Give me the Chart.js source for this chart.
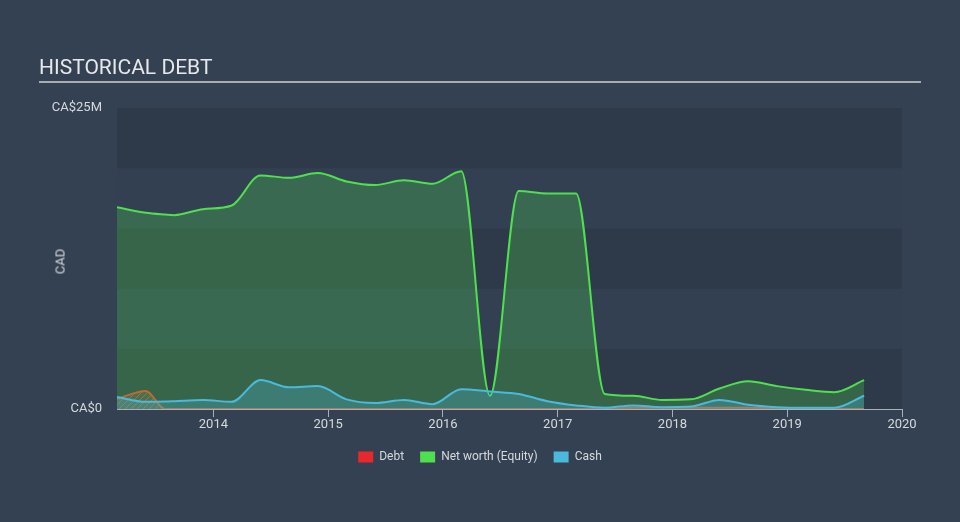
<!DOCTYPE html>
<html>
<head>
<meta charset="utf-8">
<script src="https://cdn.jsdelivr.net/npm/chart.js@4.4.0/dist/chart.umd.min.js"></script>
<style>
  html, body { margin: 0; padding: 0; background: #344152; }
  #wrap { position: relative; width: 960px; height: 522px; overflow: hidden; }
  #title { position: absolute; left: 39px; top: 55px; font: 21px Roboto, sans-serif; color: #e6e8ea; }
  #rule { position: absolute; left: 39px; top: 81px; width: 882px; height: 2px; background: #a7adb5; }
  #ylab { position: absolute; left: 44px; top: 254px; width: 32px; text-align: center; font: 13px Roboto, sans-serif; color: #d6d9dc; transform: rotate(-90deg); }
  canvas { position: absolute; left: 0; top: 0; }
</style>
</head>
<body>
<div id="wrap">
  <canvas id="myChart" width="960" height="522"></canvas>
  <div id="title">HISTORICAL DEBT</div>
  <div id="rule"></div>
  <div id="ylab">CAD</div>
</div>
<script>
// dates in decimal years
var dates = [2013.16, 2013.41, 2013.58, 2013.66, 2013.91, 2014.16, 2014.41, 2014.66, 2014.91, 2015.16,
  2015.41, 2015.66, 2015.91, 2016.16, 2016.41, 2016.66, 2016.91, 2017.16, 2017.41, 2017.66,
  2017.91, 2018.16, 2018.41, 2018.66, 2018.91, 2019.16, 2019.41, 2019.67];

// values in CA$ millions
var debt = [0.85, 1.5, 0, 0, 0, 0, 0, 0, 0, 0,
  0, 0, 0, 0, 0, 0, 0, 0, 0, 0.1,
  0.1, 0.1, 0.1, 0.1, 0.05, 0, 0, 0];
var equity = [16.75, 16.3, 16.15, 16.1, 16.6, 16.9, 19.4, 19.2, 19.6, 18.9,
  18.6, 19.0, 18.7, 19.75, 1.1, 18.1, 17.9, 17.9, 1.25, 1.1,
  0.75, 0.8, 1.7, 2.3, 1.9, 1.6, 1.4, 2.4];
var cash = [1.0, 0.6, 0.62, 0.65, 0.75, 0.6, 2.4, 1.8, 1.9, 0.8,
  0.5, 0.75, 0.4, 1.65, 1.45, 1.25, 0.65, 0.3, 0.1, 0.3,
  0.15, 0.2, 0.75, 0.35, 0.15, 0.1, 0.1, 1.1];

var xTicks = [2014, 2015, 2016, 2017, 2018, 2019, 2020];
var yTicks = [0, 25];
var bandStep = 5;

function pairs(vals) {
  var out = [];
  for (var i = 0; i < dates.length; i++) {
    out.push({x: dates[i], y: vals[i]});
  }
  return out;
}

// hatched pattern for debt
var pc = document.createElement('canvas');
pc.width = 6; pc.height = 6;
var pctx = pc.getContext('2d');
pctx.fillStyle = 'rgba(120,110,100,0.35)';
pctx.fillRect(0, 0, 6, 6);
pctx.strokeStyle = 'rgba(225,65,45,0.9)';
pctx.lineWidth = 1;
pctx.beginPath();
pctx.moveTo(0, 6); pctx.lineTo(6, 0);
pctx.moveTo(-3, 3); pctx.lineTo(3, -3);
pctx.moveTo(3, 9); pctx.lineTo(9, 3);
pctx.stroke();
var ctx = document.getElementById('myChart');
var hatch = ctx.getContext('2d').createPattern(pc, 'repeat');

var bandsPlugin = {
  id: 'bands',
  beforeDatasetsDraw: function(chart) {
    var c = chart.ctx, a = chart.chartArea, y = chart.scales.y;
    c.save();
    for (var v = 0; v < 25; v += bandStep) {
      var top = y.getPixelForValue(v + bandStep), bot = y.getPixelForValue(v);
      c.fillStyle = ((v / bandStep) % 2 === 0) ? '#2e3a4a' : '#334051';
      c.fillRect(a.left, top, a.right - a.left, bot - top);
    }
    c.restore();
  }
};

// move legend so it sits centred on the canvas
var legendShift = {
  id: 'legendShift',
  afterLayout: function(chart) {
    var lg = chart.legend;
    lg.left += 29; lg.right += 29;
    lg.top -= 1; lg.bottom -= 1;
  }
};

var legendColors = ['#e8282c', '#4fe04f', '#4ab9dc'];

var chart = new Chart(ctx, {
  type: 'line',
  data: {
    datasets: [{
      label: 'Debt',
      data: pairs(debt),
      borderColor: '#e2442c',
      backgroundColor: hatch,
      borderWidth: 2,
      fill: 'origin',
      order: 3
    }, {
      label: 'Net worth (Equity)',
      data: pairs(equity),
      borderColor: '#4fe04f',
      backgroundColor: 'rgba(78,224,78,0.26)',
      borderWidth: 2,
      fill: 'origin',
      order: 2
    }, {
      label: 'Cash',
      data: pairs(cash),
      borderColor: '#4ab9dc',
      backgroundColor: 'rgba(74,185,220,0.28)',
      borderWidth: 2,
      fill: 'origin',
      order: 1
    }]
  },
  options: {
    responsive: false,
    animation: false,
    layout: { padding: { left: 0, right: 58, top: 108, bottom: 48 } },
    elements: {
      point: { radius: 0 },
      line: { cubicInterpolationMode: 'monotone' }
    },
    scales: {
      x: {
        type: 'linear',
        min: 2013.16,
        max: 2020,
        afterBuildTicks: function(scale) {
          scale.ticks = xTicks.map(function(v) { return {value: v}; });
        },
        afterFit: function(scale) { scale.height = 27; },
        ticks: {
          color: '#d6d9dc',
          font: { family: 'Roboto', size: 13 },
          padding: 0,
          maxRotation: 0,
          callback: function(v) { return String(v); }
        },
        grid: {
          display: true,
          drawOnChartArea: false,
          drawTicks: true,
          tickLength: 8,
          color: '#aab0b8'
        },
        border: { display: true, color: '#aab0b8', width: 1 }
      },
      y: {
        min: 0,
        max: 25,
        afterBuildTicks: function(scale) {
          scale.ticks = yTicks.map(function(v) { return {value: v}; });
        },
        afterFit: function(scale) { scale.width = 117; },
        ticks: {
          color: '#d6d9dc',
          font: { family: 'Roboto', size: 13 },
          padding: 7,
          callback: function(v) { return v === 0 ? 'CA$0' : 'CA$' + v + 'M'; }
        },
        grid: { display: false },
        border: { display: false }
      }
    },
    plugins: {
      legend: {
        position: 'bottom',
        labels: {
          color: '#d6d9dc',
          font: { family: 'Roboto', size: 12 },
          boxWidth: 15,
          boxHeight: 11,
          padding: 16,
          generateLabels: function(ch) {
            return ch.data.datasets.map(function(ds, i) {
              return {
                text: ds.label,
                fillStyle: legendColors[i],
                strokeStyle: legendColors[i],
                lineWidth: 0,
                fontColor: '#d6d9dc',
                datasetIndex: i
              };
            });
          }
        }
      },
      tooltip: { enabled: false }
    }
  },
  plugins: [bandsPlugin, legendShift]
});
</script>
</body>
</html>
